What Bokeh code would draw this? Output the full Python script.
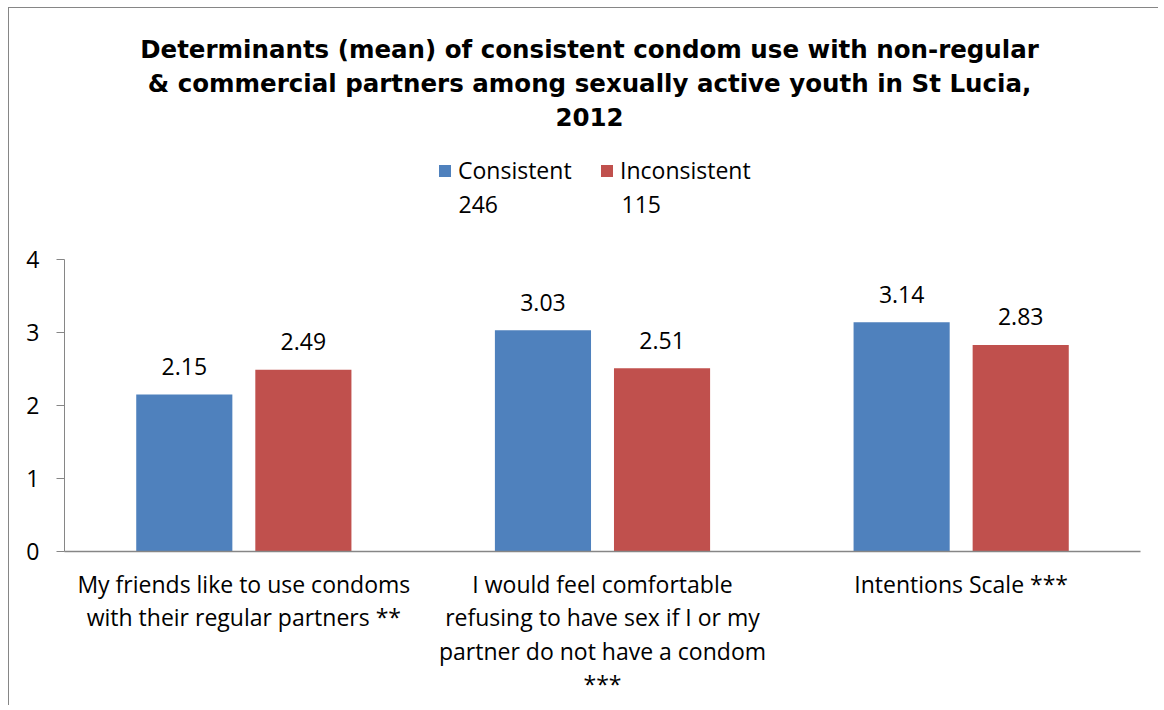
from bokeh.plotting import figure
from bokeh.models import (ColumnDataSource, Range1d, FixedTicker,
                          Label, Legend, LegendItem)
from bokeh.transform import dodge
from bokeh.core.properties import value
from bokeh.embed import file_html
from bokeh.resources import INLINE

# ---- data ----
categories = [
    "My friends like to use condoms\nwith their regular partners **",
    "I would feel comfortable\nrefusing to have sex if I or my\npartner do not have a condom\n***",
    "Intentions Scale ***",
]
consistent = [2.15, 3.03, 3.14]
inconsistent = [2.49, 2.51, 2.83]
series_names = ["Consistent", "Inconsistent"]
series_counts = ["246", "115"]
y_ticks = [0, 1, 2, 3, 4]
title_lines = [
    "Determinants (mean) of consistent condom use with non-regular",
    "& commercial partners among sexually active youth in St Lucia,",
    "2012",
]

BLUE = "#4F81BD"
RED = "#C0504D"
GREY = "#868686"
FONT = "Open Sans"
FS = "23px"
TITLE_FONT = "DejaVu Sans"

# ---- layout constants (page pixels) ----
PX_L, PX_T = 9, 8          # top-left of the drawing canvas (inside the chart border)
W, H = 1150, 698           # canvas size
PLOT_L, PLOT_R = 64, 1140  # plot area left/right
Y0, Y4 = 551, 259          # pixel rows of y=0 and y=4
ncat = len(categories)
ux = (PLOT_R - PLOT_L) / ncat
uy = (Y0 - Y4) / 4.0

cat_x = [i + 0.5 for i in range(ncat)]

src = ColumnDataSource(dict(
    x=cat_x,
    cons=consistent,
    incons=inconsistent,
    cons_lbl=[f"{v:.2f}" for v in consistent],
    incons_lbl=[f"{v:.2f}" for v in inconsistent],
))

p = figure(
    x_range=Range1d((PX_L - PLOT_L) / ux, (PX_L + W - PLOT_L) / ux),
    y_range=Range1d(-(PX_T + H - Y0) / uy, 4 + (Y4 - PX_T) / uy),
    width=W, height=H,
    min_border=0,
    output_backend="svg", toolbar_location=None,
    title=None,
)
p.margin = (7, 0, 0, 8)
p.styles = {"border-top": f"1px solid {GREY}", "border-left": f"1px solid {GREY}"}

p.outline_line_color = None
p.background_fill_color = "white"
p.border_fill_color = "white"
p.grid.visible = False


def sx(px):
    return px - PX_L


def sy(py):
    return PX_T + H - py


off = 0.166
bw = 0.268
r1 = p.vbar(x=dodge("x", -off), top="cons", width=bw,
            source=src, fill_color=BLUE, line_color=None)
r2 = p.vbar(x=dodge("x", off), top="incons", width=bw,
            source=src, fill_color=RED, line_color=None)

for col, top, o in (("cons_lbl", "cons", -off), ("incons_lbl", "incons", off)):
    p.text(x=dodge("x", o), y=top, text=col, source=src, y_offset=-28,
           text_align="center", text_baseline="alphabetic",
           text_font=value(FONT), text_font_size=FS, text_color="black")

# y axis
ya = p.yaxis[0]
ya.fixed_location = 0
ya.bounds = (0, 4)
ya.ticker = FixedTicker(ticks=y_ticks)
ya.axis_line_color = GREY
ya.major_tick_line_color = GREY
ya.major_tick_out = 8
ya.major_tick_in = 0
ya.minor_tick_line_color = None
ya.major_label_standoff = 17
ya.major_label_text_font = FONT
ya.major_label_text_font_size = FS
ya.major_label_text_color = "black"

# x axis
xa = p.xaxis[0]
xa.fixed_location = 0
xa.bounds = (0, ncat)
xa.ticker = FixedTicker(ticks=cat_x)
xa.major_label_overrides = {x: c for x, c in zip(cat_x, categories)}
xa.axis_line_color = GREY
xa.axis_line_width = 1.3
xa.major_tick_line_color = None
xa.minor_tick_line_color = None
xa.major_label_standoff = 10
xa.major_label_text_font = FONT
xa.major_label_text_font_size = FS
xa.major_label_text_color = "black"
xa.major_label_text_line_height = 1.05
xa.major_label_orientation = "horizontal"

# title lines
for line, base in zip(title_lines, (49, 83, 116.5)):
    p.add_layout(Label(x=sx(589), y=sy(base), x_units="screen", y_units="screen",
                       text=line, text_align="center", text_baseline="alphabetic",
                       text_font=TITLE_FONT, text_font_style="bold",
                       text_font_size="24.5px", text_color="black"))

# legends (one per series, placed like the reference) + group sizes under them
for r, name, cnt, gx, tx in ((r1, series_names[0], series_counts[0], 437, 458),
                             (r2, series_names[1], series_counts[1], 599, 621)):
    lg = Legend(items=[LegendItem(label=name, renderers=[r])],
                location=(sx(gx), sy(186)),
                glyph_width=15, glyph_height=15, label_standoff=6,
                padding=0, margin=0, spacing=0,
                border_line_color=None, background_fill_alpha=0,
                label_text_font=FONT, label_text_font_size=FS,
                label_text_color="black")
    p.add_layout(lg, "center")
    p.add_layout(Label(x=sx(tx), y=sy(204), x_units="screen", y_units="screen",
                       text=cnt, text_align="left", text_baseline="alphabetic",
                       text_font=FONT, text_font_size=FS, text_color="black"))

open("out.html", "w").write(file_html(p, INLINE))
